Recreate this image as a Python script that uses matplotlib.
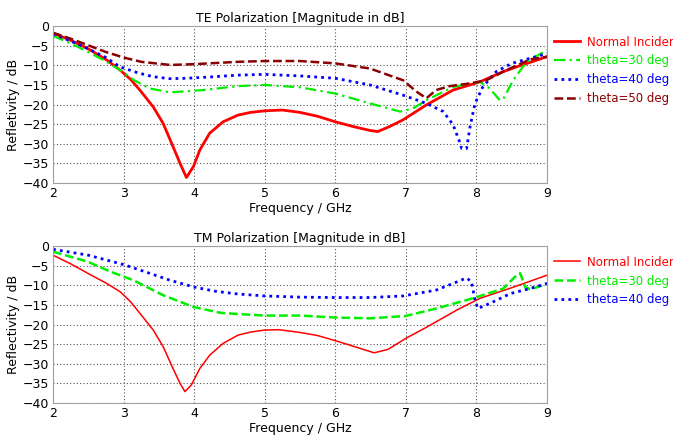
import matplotlib.pyplot as plt
import numpy as np

# ---- TE polarization data (frequency in GHz, reflectivity in dB) ----
te_normal_f = [2, 2.25, 2.5, 2.75, 2.95, 3.1, 3.23, 3.42, 3.56, 3.7, 3.8, 3.89, 3.99, 4.08,
               4.22, 4.41, 4.62, 4.8, 5, 5.25, 5.5, 5.75, 6, 6.25, 6.49, 6.6, 6.77, 6.96,
               7.29, 7.67, 8.05, 8.38, 8.6, 8.85, 9]
te_normal = [-1.8, -3.6, -5.8, -8.5, -11.2, -13.6, -16.3, -20.6, -24.8, -30.7, -35, -38.6,
             -35.8, -31.6, -27.3, -24.4, -22.7, -22.0, -21.6, -21.4, -22, -23, -24.4,
             -25.6, -26.6, -26.9, -25.6, -23.9, -20.1, -16.3, -14.2, -11.6, -10.2, -8.7,
             -7.8]

te_30_f = [2, 2.25, 2.5, 2.75, 2.95, 3.15, 3.37, 3.66, 3.9, 4.13, 4.62, 5, 5.5, 6, 6.49,
           6.92, 7.1, 7.29, 7.67, 8.05, 8.19, 8.33, 8.38, 8.52, 8.71, 9]
te_30 = [-2.5, -4.4, -6.6, -9.0, -11.2, -13.8, -15.9, -16.9, -16.6, -16.3, -15.3, -15.0,
         -15.6, -17.2, -19.7, -21.8, -21.0, -18.9, -15.5, -14.2, -15.9, -18.9, -18.6,
         -13.8, -9.1, -6.1]

te_40_f = [2, 2.25, 2.5, 2.75, 2.95, 3.2, 3.42, 3.65, 3.89, 4.2, 4.62, 5, 5.5, 6, 6.49,
           6.96, 7.29, 7.53, 7.67, 7.77, 7.79, 7.86, 7.91, 7.98, 8.09, 8.28, 8.5, 9]
te_40 = [-2.0, -3.8, -5.8, -8.0, -10.4, -11.9, -12.9, -13.4, -13.3, -13.0, -12.5, -12.3,
         -12.7, -13.3, -15.0, -17.6, -19.7, -21.8, -25.2, -29.9, -31.2, -31.2, -25.6,
         -19.7, -15.5, -11.6, -9.5, -7.0]

te_50_f = [2, 2.25, 2.5, 2.75, 3, 3.25, 3.66, 4, 4.62, 5, 5.5, 6, 6.49, 6.96, 7.15, 7.29,
           7.43, 7.62, 7.91, 8.14, 8.38, 8.76, 9]
te_50 = [-1.7, -3.2, -4.9, -6.6, -8.0, -9.1, -9.9, -9.7, -9.1, -8.9, -8.9, -9.5, -10.8,
         -13.8, -16.7, -18.4, -16.3, -15.3, -14.6, -13.8, -11.6, -8.5, -7.8]

# ---- TM polarization data ----
tm_normal_f = [2, 2.25, 2.5, 2.75, 2.95, 3.1, 3.23, 3.42, 3.56, 3.7, 3.8, 3.87, 3.96, 4.08,
               4.22, 4.41, 4.62, 4.8, 5, 5.2, 5.5, 5.75, 6, 6.25, 6.55, 6.75, 7, 7.3, 7.72,
               8.05, 8.5, 9]
tm_normal = [-2.3, -4.5, -7.0, -9.4, -11.6, -14.2, -17.1, -21.4, -25.6, -31.2, -35, -37.1,
             -35.4, -31.2, -27.8, -24.8, -22.7, -21.9, -21.4, -21.3, -22, -22.8, -24.1,
             -25.5, -27.2, -26.3, -23.5, -20.6, -16.3, -13.3, -10.6, -7.4]

tm_30_f = [2, 2.5, 2.8, 3.14, 3.56, 3.99, 4.37, 4.62, 5, 5.5, 6, 6.5, 7, 7.43, 7.95, 8.38,
           8.57, 8.62, 8.69, 8.76, 9]
tm_30 = [-1.4, -4.0, -6.4, -8.7, -12.5, -15.5, -17.0, -17.3, -17.7, -17.7, -18.2, -18.4,
         -17.8, -15.9, -13.3, -10.8, -7.4, -6.9, -10.4, -11.0, -9.7]

tm_40_f = [2, 2.5, 3, 3.3, 3.66, 3.99, 4.3, 4.62, 5, 5.5, 6, 6.49, 6.96, 7.43, 7.67, 7.86,
           7.93, 7.98, 8.02, 8.19, 8.48, 8.76, 9]
tm_40 = [-0.8, -2.3, -4.7, -6.5, -8.7, -10.4, -11.5, -12.2, -12.7, -13.0, -13.1, -13.1,
         -12.7, -11.2, -9.5, -8.1, -9.1, -13.8, -15.9, -14.6, -12.1, -10.8, -9.5]

xticks = [2, 3, 4, 5, 6, 7, 8, 9]
yticks = [0, -5, -10, -15, -20, -25, -30, -35, -40]

plt.rcParams['font.family'] = ['DejaVu Sans']
fig = plt.figure(figsize=(6.73, 4.43), dpi=100)
ax1 = fig.add_axes([0.0788, 0.587, 0.734, 0.354])
ax2 = fig.add_axes([0.0788, 0.0903, 0.734, 0.354])

red = '#ff0000'
green = '#00ee00'
blue = '#0000ff'
dred = '#8b0000'

ax1.plot(te_normal_f, te_normal, color=red, lw=2, label='Normal Incidence')
ax1.plot(te_30_f, te_30, color=green, lw=1.6, ls=(0, (5, 2, 1, 2)), label='theta=30 deg')
ax1.plot(te_40_f, te_40, color=blue, lw=2, ls=(0, (1, 1.5)), label='theta=40 deg')
ax1.plot(te_50_f, te_50, color=dred, lw=1.8, ls=(0, (3.5, 1.5)), label='theta=50 deg')

ax2.plot(tm_normal_f, tm_normal, color=red, lw=1.1, label='Normal Incidence')
ax2.plot(tm_30_f, tm_30, color=green, lw=1.8, ls=(0, (3.5, 1.5)), label='theta=30 deg')
ax2.plot(tm_40_f, tm_40, color=blue, lw=2, ls=(0, (1, 1.5)), label='theta=40 deg')

titles = ['TE Polarization [Magnitude in dB]', 'TM Polarization [Magnitude in dB]']
ylabels = ['Refletivity / dB', 'Reflectivity / dB']
for ax, title, ylab in zip([ax1, ax2], titles, ylabels):
    ax.set_xlim(2, 9)
    ax.set_ylim(-40, 0)
    ax.set_xticks(xticks)
    ax.set_yticks(yticks)
    ax.tick_params(length=0, labelsize=9, pad=3)
    ax.grid(True, color='#555555', ls=(0, (1, 2)), lw=0.8)
    for s in ax.spines.values():
        s.set_color('#a0a0a0')
    ax.set_title(title, fontsize=9, pad=3)
    ax.set_xlabel('Frequency / GHz', fontsize=9, labelpad=1)
    ax.set_ylabel(ylab, fontsize=9, labelpad=2)
    ax.legend(loc='upper left', bbox_to_anchor=(1.005, 0.97), frameon=False,
              fontsize=8.5, handlelength=2.2, handletextpad=0.6, labelspacing=0.5,
              borderaxespad=0, labelcolor='linecolor')

fig.savefig('out.png', dpi=100)
